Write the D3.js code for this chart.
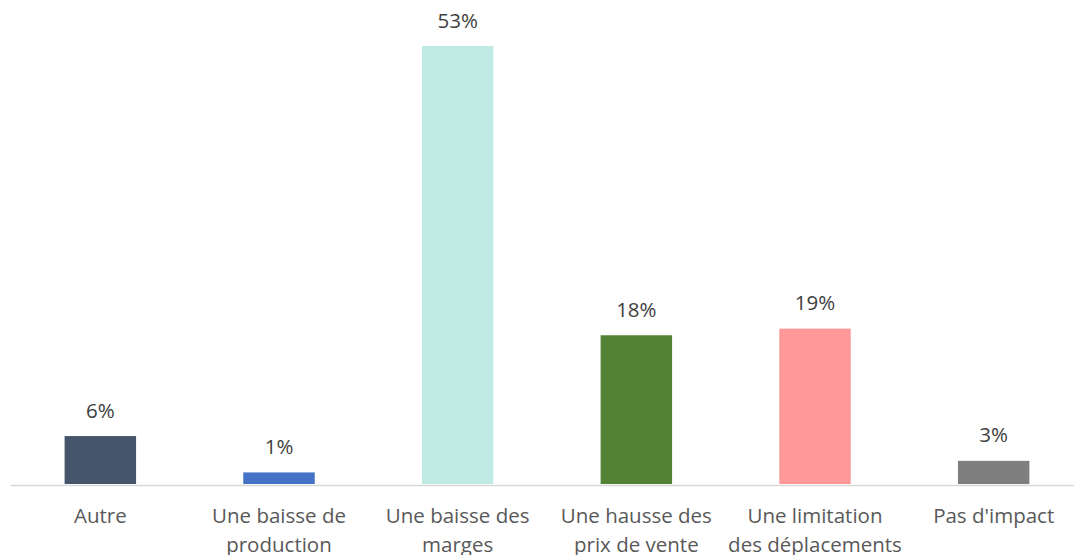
<!DOCTYPE html>
<html>
<head>
<meta charset="utf-8">
<script src="https://cdn.jsdelivr.net/npm/d3@7"></script>
<style>
  html, body { margin: 0; padding: 0; background: #ffffff; }
  svg { display: block; }
</style>
</head>
<body>
<svg id="chart"></svg>
<script>
// --- données ---
const categories = [
  ["Autre"],
  ["Une baisse de", "production"],
  ["Une baisse des", "marges"],
  ["Une hausse des", "prix de vente"],
  ["Une limitation", "des déplacements"],
  ["Pas d'impact"]
];
const values = [5.8, 1.4, 53.0, 18.0, 18.8, 2.8];
const valueLabels = ["6%", "1%", "53%", "18%", "19%", "3%"];
const barColors = ["#44546a", "#4472c4", "#c0ebe5", "#548235", "#ff9999", "#7f7f7f"];

const width = 1074, height = 555;
const baseY = 484;
const fontFamily = "'Open Sans', sans-serif";
const fontSize = "20.5px";

const svg = d3.select("#chart").attr("width", width).attr("height", height);

const x = d3.scaleBand()
  .domain(d3.range(categories.length))
  .range([11, 1083])
  .paddingInner(0.6)
  .paddingOuter(0.3);

const y = d3.scaleLinear()
  .domain([0, 53])
  .range([baseY, 46]);

// barres
svg.append("g")
  .selectAll("rect")
  .data(values)
  .join("rect")
  .attr("x", (d, i) => x(i))
  .attr("y", d => y(d))
  .attr("width", x.bandwidth())
  .attr("height", d => baseY - y(d))
  .attr("fill", (d, i) => barColors[i]);

// axe horizontal
svg.append("line")
  .attr("x1", 11).attr("x2", width)
  .attr("y1", baseY + 1.5).attr("y2", baseY + 1.5)
  .attr("stroke", "#d9d9d9")
  .attr("stroke-width", 1.5);

// étiquettes de valeurs
svg.append("g")
  .selectAll("text")
  .data(values)
  .join("text")
  .attr("x", (d, i) => x(i) + x.bandwidth() / 2)
  .attr("y", d => y(d) - 18.5)
  .attr("text-anchor", "middle")
  .style("font-family", fontFamily)
  .style("font-size", fontSize)
  .style("fill", "#404040")
  .text((d, i) => valueLabels[i]);

// catégories
const cat = svg.append("g")
  .selectAll("text")
  .data(categories)
  .join("text")
  .attr("x", (d, i) => x(i) + x.bandwidth() / 2)
  .attr("y", 523)
  .attr("text-anchor", "middle")
  .style("font-family", fontFamily)
  .style("font-size", fontSize)
  .style("fill", "#595959");

cat.selectAll("tspan")
  .data(d => d)
  .join("tspan")
  .attr("x", function() { return d3.select(this.parentNode).attr("x"); })
  .attr("dy", (d, i) => i === 0 ? 0 : 28.5)
  .text(d => d);
</script>
</body>
</html>
